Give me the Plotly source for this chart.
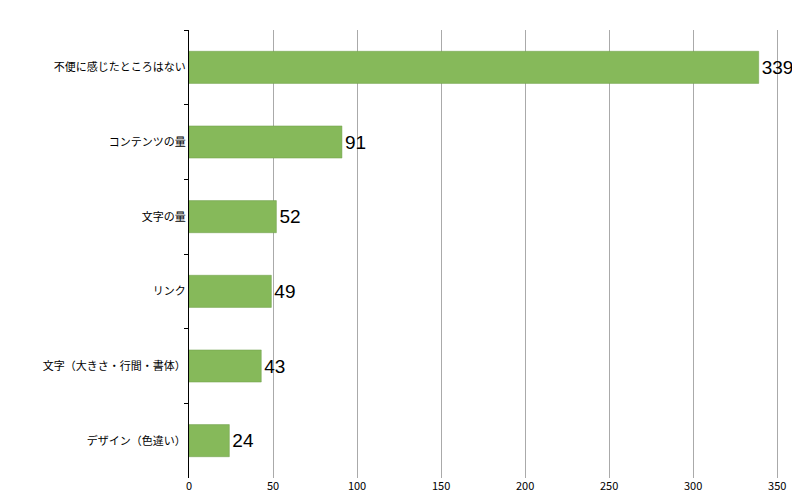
import plotly.graph_objects as go

categories = ["不便に感じたところはない", "コンテンツの量", "文字の量", "リンク", "文字（大きさ・行間・書体）", "デザイン（色違い）"]
values = [339, 91, 52, 49, 43, 24]

fig = go.Figure(go.Bar(
    y=categories, x=values, orientation="h",
    marker=dict(color="#86b95a", line=dict(color="#6f9e48", width=0.5)),
    text=[str(v) for v in values], textposition="outside",
    textfont=dict(size=19, color="black", family="Liberation Sans"),
    cliponaxis=False,
))
fig.update_layout(
    width=800, height=500, plot_bgcolor="white", paper_bgcolor="white",
    margin=dict(l=181, r=14, t=22, b=30),
    bargap=0.57, showlegend=False,
    font=dict(family="Noto Sans CJK JP", size=11, color="black"),
)
fig.update_xaxes(range=[0, 360], tickvals=[0, 50, 100, 150, 200, 250, 300, 350],
                 showgrid=True, gridcolor="#aaaaaa", gridwidth=1, zeroline=False,
                 showline=False, tickfont=dict(size=11))
fig.update_yaxes(autorange="reversed", showline=True, linecolor="black", linewidth=1,
                 ticks="outside", ticklen=4, tickson="boundaries", tickcolor="black",
                 tickfont=dict(size=11), showgrid=False)
fig.write_html("out.html")
